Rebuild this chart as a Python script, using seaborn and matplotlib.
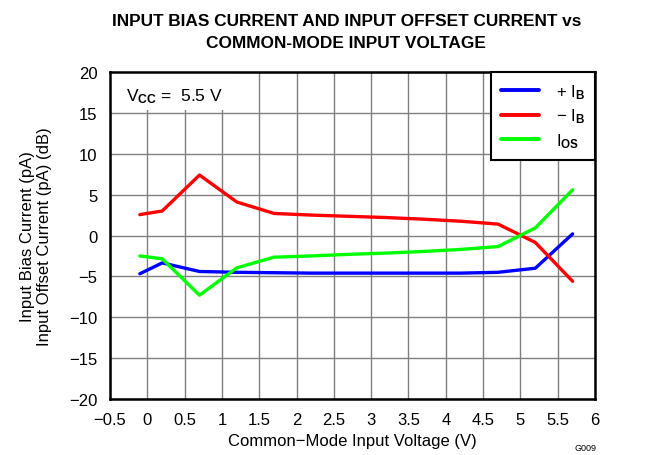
import matplotlib
matplotlib.use("Agg")
import matplotlib.pyplot as plt
import seaborn as sns
import pandas as pd
from matplotlib.patches import Rectangle

voltage = [-0.1, 0.2, 0.7, 1.2, 1.7, 2.2, 2.7, 3.2, 3.7, 4.2, 4.7, 5.2, 5.7]
plus_ib = [-4.68, -3.35, -4.4, -4.5, -4.55, -4.6, -4.6, -4.6, -4.6, -4.6, -4.5, -4.0, 0.2]
minus_ib = [2.56, 3.0, 7.4, 4.1, 2.7, 2.5, 2.35, 2.2, 2.0, 1.75, 1.4, -0.85, -5.6]
ios = [-2.5, -2.85, -7.3, -3.95, -2.65, -2.5, -2.3, -2.15, -1.95, -1.7, -1.35, 0.93, 5.6]
series_names = ["+IB", "-IB", "IOS"]
series_labels = [r"+ I$_\mathbf{B}$", r"− I$_\mathbf{B}$", r"I$_\mathbf{OS}$"]
colors = ["#0000ff", "#ff0000", "#00ff00"]
x_ticks = [-0.5, 0, 0.5, 1, 1.5, 2, 2.5, 3, 3.5, 4, 4.5, 5, 5.5, 6]
y_ticks = [-20, -15, -10, -5, 0, 5, 10, 15, 20]

sns.set_theme(style="white")
plt.rcParams["font.family"] = ["Liberation Sans", "DejaVu Sans"]
plt.rcParams["mathtext.fontset"] = "custom"
plt.rcParams["mathtext.rm"] = "Liberation Sans"
plt.rcParams["mathtext.it"] = "Liberation Sans"
plt.rcParams["mathtext.bf"] = "Liberation Sans:bold"
for k in ["text.color", "axes.labelcolor", "xtick.color", "ytick.color"]:
    plt.rcParams[k] = "black"

df = pd.DataFrame({
    "V": voltage * 3,
    "I": plus_ib + minus_ib + ios,
    "s": [series_names[0]] * len(voltage) + [series_names[1]] * len(voltage) + [series_names[2]] * len(voltage),
})

fig = plt.figure(figsize=(6.45, 4.56), dpi=100)
ax = fig.add_axes([0.1705, 0.1228, 0.752, 0.717])

ax.set_xlim(-0.5, 6)
ax.set_ylim(-20, 20)
ax.set_xticks(x_ticks)
ax.set_yticks(y_ticks)
ax.set_xticklabels([("−" if t < 0 else "") + ("%g" % abs(t)) for t in x_ticks], fontsize=12)
ax.set_yticklabels([("−" if t < 0 else "") + ("%g" % abs(t)) for t in y_ticks], fontsize=12)
ax.grid(True, color="#808080", linewidth=1.0, zorder=0)
ax.set_axisbelow(True)

sns.lineplot(data=df, x="V", y="I", hue="s", hue_order=series_names,
             palette=colors, linewidth=2.4, ax=ax, legend=False, zorder=3)

# white box behind Vcc text
ax.add_patch(Rectangle((-0.5, 15.3), 1.66, 4.7, facecolor="white", edgecolor="none", zorder=1))
ax.text(-0.28, 17.1, r"V$_\mathbf{CC}$ =  5.5 V", fontsize=12.5, va="center", ha="left", zorder=4)

for sp in ax.spines.values():
    sp.set_color("black")
    sp.set_linewidth(1.8)
ax.tick_params(axis="y", which="both", length=0, pad=9)
ax.tick_params(axis="x", which="both", length=0, pad=9)

handles = [plt.Line2D([], [], color=c, linewidth=2.8) for c in colors]
leg = ax.legend(handles, series_labels, loc="upper right", fontsize=12, frameon=True,
                fancybox=False, edgecolor="black", framealpha=1, borderpad=0.6,
                handlelength=2.3, handletextpad=1.0, labelspacing=0.35, borderaxespad=0)
leg.get_frame().set_linewidth(1.5)
leg.set_zorder(5)

ax.set_xlabel("Common−Mode Input Voltage (V)", fontsize=12, labelpad=5)
ax.set_ylabel("Input Bias Current (pA)\nInput Offset Current (pA) (dB)", fontsize=12, labelpad=12)
fig.suptitle("INPUT BIAS CURRENT AND INPUT OFFSET CURRENT vs\nCOMMON-MODE INPUT VOLTAGE",
             fontsize=12.4, fontweight="bold", y=0.97, x=0.537, linespacing=1.6)
fig.text(0.925, 0.01, "G009", fontsize=6.5, ha="right")

fig.savefig("out.png", dpi=100)
